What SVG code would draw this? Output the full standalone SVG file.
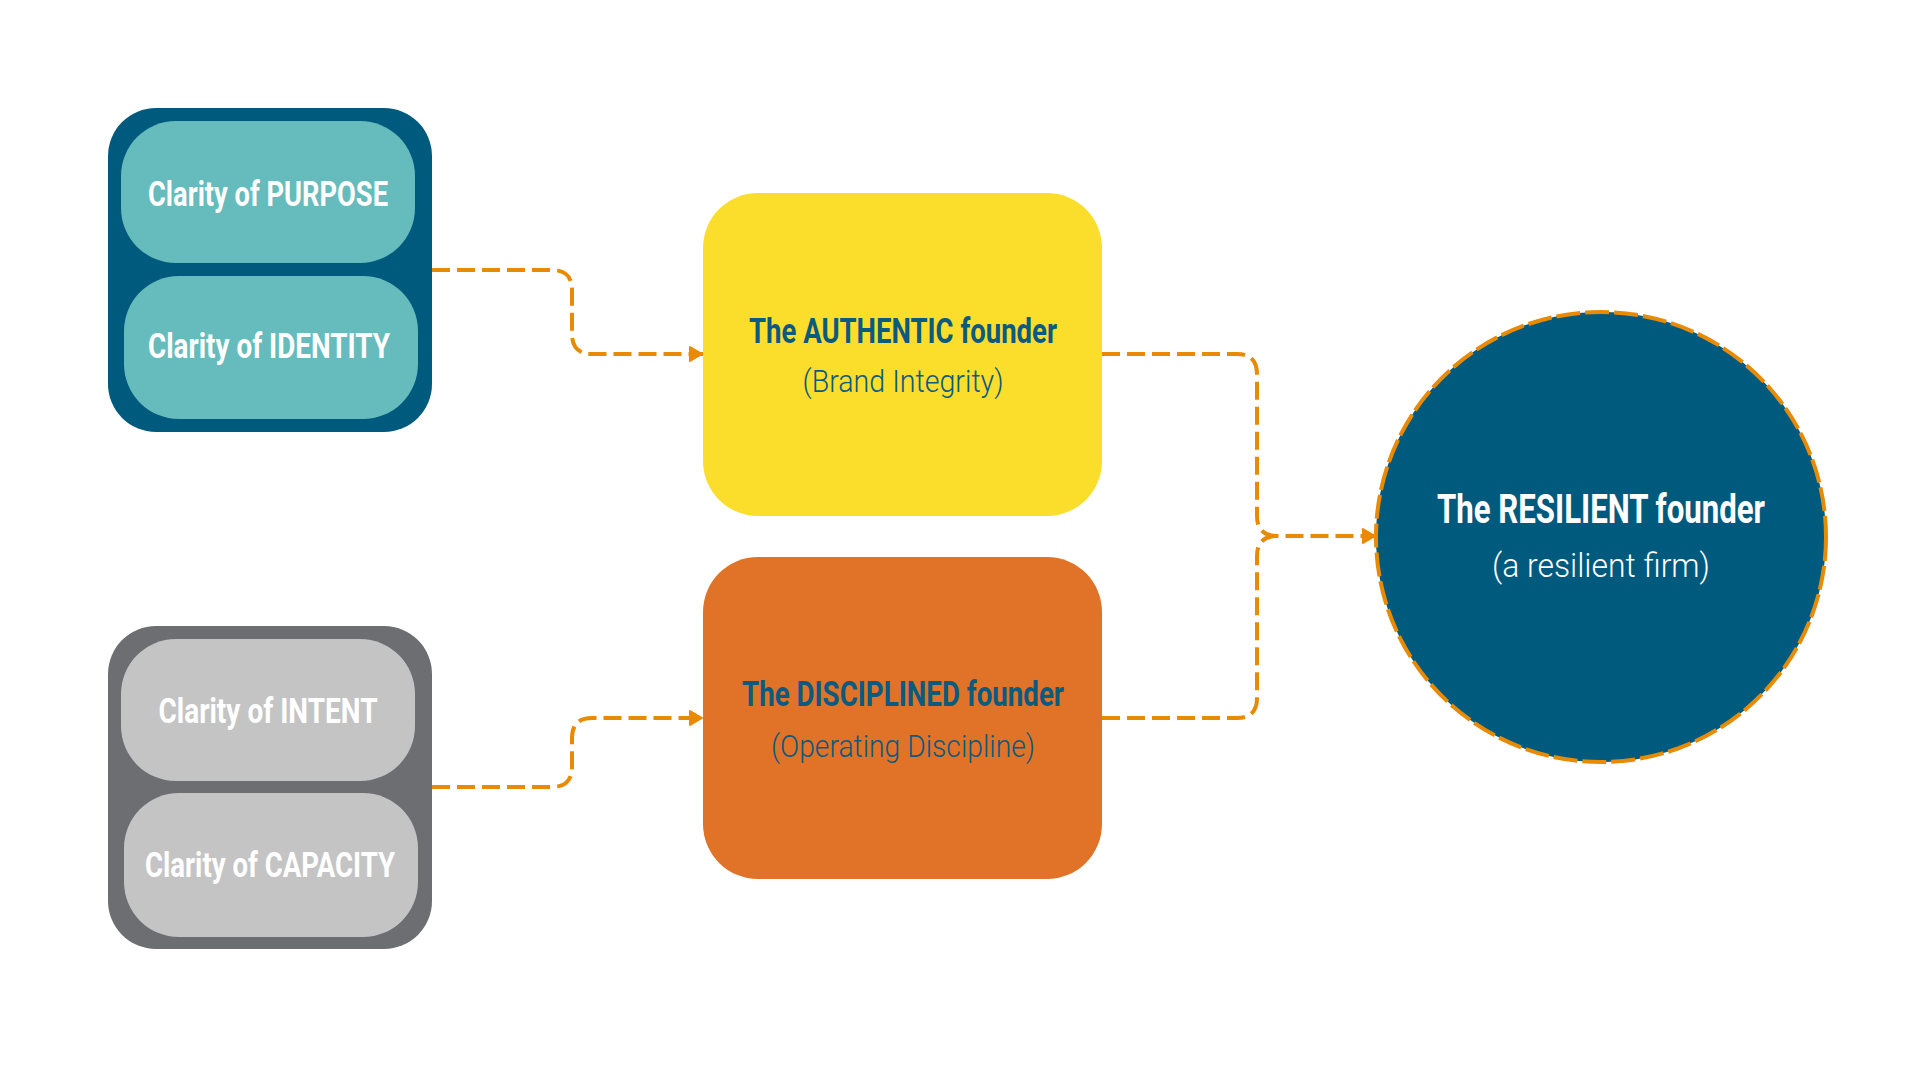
<svg xmlns="http://www.w3.org/2000/svg" width="1920" height="1080" viewBox="0 0 1920 1080">
<style>
.bold{font-family:Roboto,"Liberation Sans",sans-serif;font-weight:700;text-anchor:middle}
.light{font-family:Roboto,"Liberation Sans",sans-serif;font-weight:300;text-anchor:middle}
.w{fill:#ffffff}
.b{fill:#0B5A80}
.conn{fill:none;stroke:#E98A05;stroke-width:4;stroke-dasharray:18 7}
</style>
<defs>
<marker id="arr" viewBox="0 0 14 16" refX="14" refY="8" markerWidth="14" markerHeight="16" markerUnits="userSpaceOnUse" orient="auto">
<path d="M1,1 L13,8 L1,15 Z" fill="#E98A05" stroke="#E98A05" stroke-width="2" stroke-linejoin="round"/>
</marker>
</defs>
<rect width="1920" height="1080" fill="#ffffff"/>
<g id="group-authentic">
<rect x="108" y="108" width="324" height="324" rx="48" fill="#005A7D"/>
<g id="purpose">
<rect x="121" y="121" width="294" height="142" rx="55" fill="#66BCBC"/>
<text class="bold w" x="268" y="206" font-size="35" textLength="240" lengthAdjust="spacingAndGlyphs">Clarity of PURPOSE</text>
</g>
<g id="identity">
<rect x="124" y="276" width="294" height="143" rx="55" fill="#66BCBC"/>
<text class="bold w" x="269" y="358" font-size="35" textLength="242" lengthAdjust="spacingAndGlyphs">Clarity of IDENTITY</text>
</g>
</g>
<g id="group-disciplined">
<rect x="108" y="626" width="324" height="323" rx="48" fill="#6D6E72"/>
<g id="intent">
<rect x="121" y="639" width="294" height="142" rx="55" fill="#C4C4C4"/>
<text class="bold w" x="268" y="723" font-size="35" textLength="219" lengthAdjust="spacingAndGlyphs">Clarity of INTENT</text>
</g>
<g id="capacity">
<rect x="124" y="793" width="294" height="144" rx="55" fill="#C4C4C4"/>
<text class="bold w" x="270" y="877" font-size="35" textLength="250" lengthAdjust="spacingAndGlyphs">Clarity of CAPACITY</text>
</g>
</g>
<g id="authentic">
<rect x="703" y="193" width="399" height="323" rx="55" fill="#FBDD2C"/>
<text class="bold b" x="903" y="343" font-size="35" textLength="308" lengthAdjust="spacingAndGlyphs">The AUTHENTIC founder</text>
<text class="light b" x="903" y="392" font-size="32" textLength="201" lengthAdjust="spacingAndGlyphs">(Brand Integrity)</text>
</g>
<g id="disciplined">
<rect x="703" y="557" width="399" height="322" rx="55" fill="#E07327"/>
<text class="bold b" x="903" y="706" font-size="35" textLength="322" lengthAdjust="spacingAndGlyphs">The DISCIPLINED founder</text>
<text class="light b" x="903" y="757" font-size="32" textLength="264" lengthAdjust="spacingAndGlyphs">(Operating Discipline)</text>
</g>
<g id="resilient">
<circle cx="1601" cy="537" r="225" fill="#005A7D" stroke="#E98A05" stroke-width="4" stroke-dasharray="24 5"/>
<text class="bold w" x="1601" y="523" font-size="40" textLength="328" lengthAdjust="spacingAndGlyphs">The RESILIENT founder</text>
<text class="light w" x="1601" y="577" font-size="34" textLength="218" lengthAdjust="spacingAndGlyphs">(a resilient firm)</text>
</g>
<g id="connectors">
<path class="conn" d="M432,270 H552 Q572,270 572,290 V334 Q572,354 592,354 H703" marker-end="url(#arr)"/>
<path class="conn" d="M432,787 H552 Q572,787 572,767 V738 Q572,718 592,718 H703" marker-end="url(#arr)"/>
<path class="conn" d="M1102,354 H1237 Q1257,354 1257,374 V516 Q1257,536 1277,536 H1376" marker-end="url(#arr)"/>
<path class="conn" d="M1102,718 H1237 Q1257,718 1257,698 V556 Q1257,536 1277,536"/>
</g>
</svg>
